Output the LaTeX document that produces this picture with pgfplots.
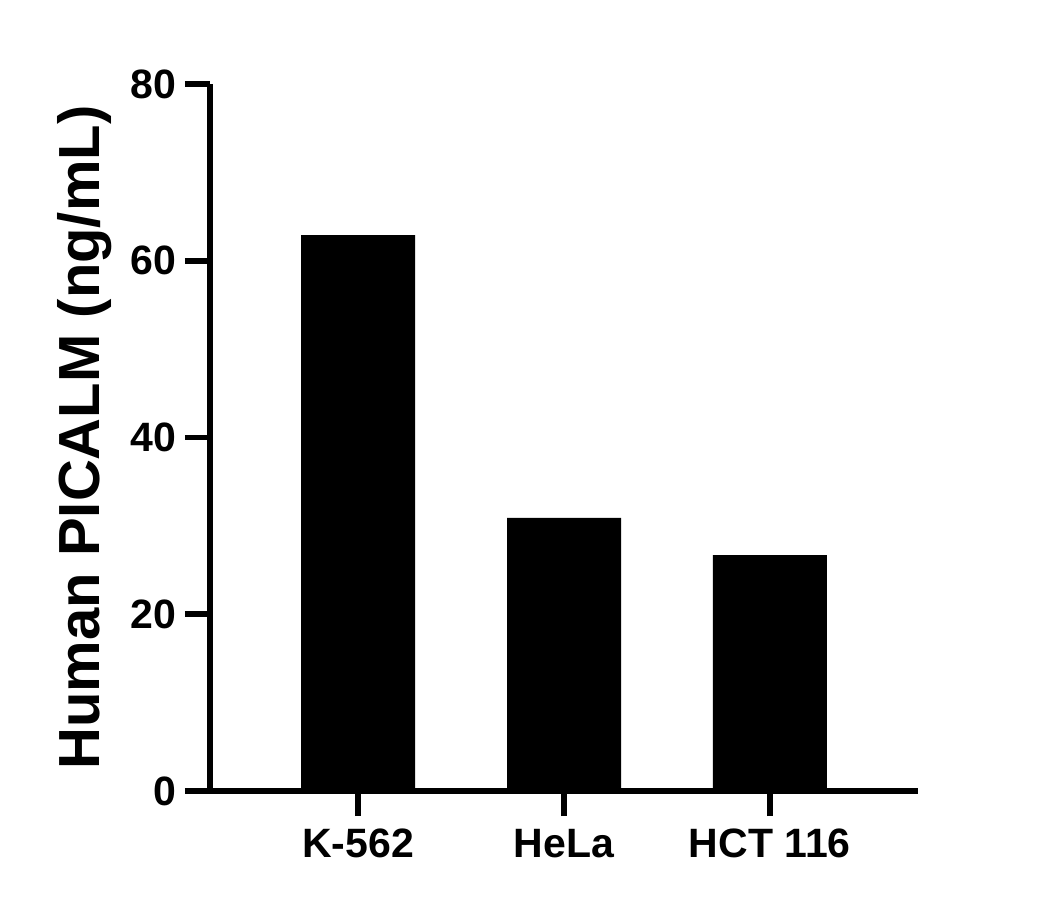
\documentclass[border=0pt]{standalone}
\usepackage{fontspec}
\setmainfont{Liberation Sans}
\usepackage{pgfplots}
\pgfplotsset{compat=1.18}

\begin{document}
\begin{tikzpicture}
  % page frame, 1 px = 0.5 pt, axis corner at px (210,791)
  \path[use as bounding box] (-105pt,-59pt) rectangle (421pt,395.5pt);
  \begin{axis}[
      scale only axis,
      width=354pt, height=353.5pt,
      axis x line=bottom, axis y line=left,
      axis line style={-, line width=2.8pt},
      every tick/.style={black, line width=2.8pt},
      tick align=outside,
      major tick length=12.5pt,
      xmin=-0.72, xmax=2.72,
      ymin=0, ymax=80,
      ytick={0,20,40,60,80},
      xtick={0,1,2},
      xticklabels={K-562,HeLa,HCT 116},
      /pgf/number format/assume math mode=true,
      ticklabel style={font=\fontsize{20.5}{24}\selectfont\bfseries},
      yticklabel style={xshift=-1pt},
      xticklabel style={yshift=-3pt},
      ylabel={Human PICALM (ng/mL)},
      every axis y label/.style={at={(axis description cs:0,0.5)},
        rotate=90, anchor=base, yshift=55pt,
        font=\fontsize{29}{34}\selectfont\bfseries},
      clip=false,
    ]
    \addplot[ybar, bar width=57pt, fill=black, draw=none]
      coordinates {(0,62.9) (1,30.9) (2,26.7)};
  \end{axis}
\end{tikzpicture}
\end{document}
